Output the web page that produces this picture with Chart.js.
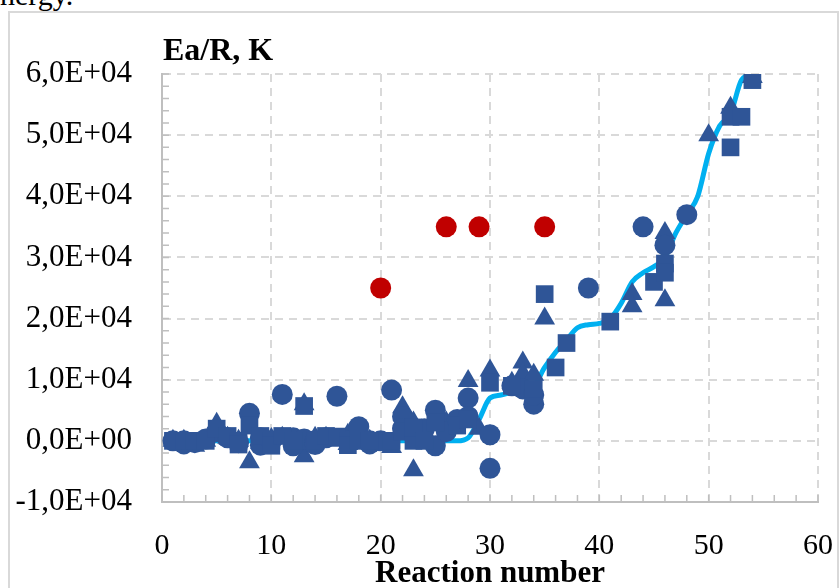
<!DOCTYPE html>
<html>
<head>
<meta charset="utf-8">
<script src="https://cdn.jsdelivr.net/npm/chart.js@4"></script>
<style>
  body { margin: 0; background: #fff; overflow: hidden; }
  #wrap { position: relative; width: 839px; height: 588px; }
  #frame { position: absolute; left: 8px; top: 11px; width: 827px; height: 600px; border: 2px solid #d9d9d9; }
  #cut { position: absolute; left: 0; top: -22px; font: 30px "Liberation Serif", serif; color: #000; }
  canvas { position: absolute; left: 0; top: 0; }
</style>
</head>
<body>
<div id="wrap">
  <div id="cut">nergy.</div>
  <div id="frame"></div>
  <canvas id="chart" width="839" height="588"></canvas>
</div>
<script>
// circles
const circleX = [1, 2, 2, 3, 4, 5, 6, 7, 8, 9, 9, 10, 11, 12, 12, 13, 14, 14, 15, 16, 17, 18, 19, 19, 20, 21, 22, 22, 23, 24, 25, 25, 26, 27, 28, 28, 30, 30, 32, 33, 34, 34, 39, 44, 46, 48];
const circleY = [0, 0, -500, -300, 300, 1500, 500, -300, 4500, 500, -700, 0, 7600, 500, -800, 300, 0, -600, 500, 7300, 0, 2300, 0, -500, 0, 8300, 4000, 2000, 1000, 2000, 5000, -800, 1500, 3500, 7000, 4000, 1000, -4500, 9000, 8500, 6000, 7500, 25000, 35000, 32000, 37000];

// triangles
const triX = [1, 2, 3, 4, 5, 6, 7, 8, 9, 10, 11, 12, 13, 13, 14, 15, 16, 17, 17, 18, 19, 21, 22, 22, 23, 23, 24, 26, 28, 29, 30, 32, 33, 33, 34, 35, 43, 43, 46, 46, 50, 52, 54];
const triY = [0, 0, -800, 0, 2800, 500, 0, -3500, -300, 300, 500, 0, 6000, -2500, 500, 500, 0, 1000, -500, 0, 0, -1000, 5500, 3000, -4800, 3000, 1500, 3000, 9800, 2000, 11500, 9500, 12800, 11000, 10800, 20000, 24000, 22000, 34000, 23000, 50000, 54500, 59500];

// squares
const sqX = [1, 2, 3, 4, 5, 6, 7, 7, 8, 9, 10, 10, 11, 12, 13, 14, 15, 16, 17, 17, 18, 19, 21, 22, 23, 23, 24, 25, 27, 28, 30, 32, 34, 35, 36, 37, 41, 45, 46, 46, 52, 52, 53, 54];
const sqY = [0, 0, 0, 0, 2000, 800, 0, -600, 2500, 800, 0, -800, 800, 0, 5700, 0, 800, 700, 0, -700, 0, 0, 0, 1500, 0, 2200, 0, 3000, 2500, 3500, 9500, 9000, 8500, 24000, 12000, 16000, 19500, 26000, 29000, 27500, 53000, 48000, 53000, 59000];

// red circles
const redX = [20, 26, 29, 35];
const redY = [25000, 35000, 35000, 35000];

// fitted curve
const fitX = [1, 5, 10, 15, 20, 25, 27, 28, 29, 30, 31, 32, 33, 34, 35, 36, 37, 38, 39, 40, 41, 42, 43, 44, 45, 46, 47, 48, 49, 50, 51, 52, 53, 54];
const fitY = [0, 0, 0, 0, 0, 0, 0, 500, 3500, 7000, 7500, 8000, 8500, 9000, 12000, 14500, 16500, 18500, 19000, 19200, 20000, 22500, 26000, 27500, 28500, 30000, 34000, 37000, 40000, 47000, 51500, 53500, 59000, 60000];

const xTickLabels = ['0', '10', '20', '30', '40', '50', '60'];
const yTickLabels = ['-1,0E+04', '0,0E+00', '1,0E+04', '2,0E+04', '3,0E+04', '4,0E+04', '5,0E+04', '6,0E+04'];

const blue = '#2F5597';
const toPts = (xs, ys) => xs.map((x, i) => ({ x: x, y: ys[i] }));

const minorTicks = {
  id: 'minorTicks',
  beforeDatasetsDraw(chart) {
    const { ctx, chartArea, scales: { x, y } } = chart;
    ctx.save();
    ctx.strokeStyle = '#bfbfbf';
    ctx.lineWidth = 1.5;
    ctx.beginPath();
    for (let v = y.min; v <= y.max; v += 2000) {
      const py = y.getPixelForValue(v);
      ctx.moveTo(chartArea.left, py);
      ctx.lineTo(chartArea.left + 7, py);
    }
    for (let v = x.min; v <= x.max; v += 2) {
      const px = x.getPixelForValue(v);
      ctx.moveTo(px, chartArea.bottom);
      ctx.lineTo(px, chartArea.bottom - 7);
    }
    ctx.stroke();
    ctx.restore();
  },
  afterDraw(chart) {
    const { ctx, chartArea } = chart;
    ctx.save();
    ctx.font = 'bold 32px "Liberation Serif"';
    ctx.fillStyle = '#000';
    ctx.textBaseline = 'middle';
    ctx.textAlign = 'left';
    ctx.fillText('Ea/R, K', chartArea.left + 1, 52);
    ctx.restore();
  }
};

new Chart(document.getElementById('chart'), {
  type: 'scatter',
  data: {
    datasets: [
      { data: toPts(redX, redY), pointStyle: 'circle', pointRadius: 10.5, backgroundColor: '#C00000', borderWidth: 0, order: 0 },
      { data: toPts(sqX, sqY), pointStyle: 'rect', pointRadius: 12.5, backgroundColor: blue, borderWidth: 0, order: 1 },
      { data: toPts(circleX, circleY), pointStyle: 'circle', pointRadius: 10.5, backgroundColor: blue, borderWidth: 0, order: 2 },
      { data: toPts(triX, triY), pointStyle: 'triangle', pointRadius: 12, backgroundColor: blue, borderWidth: 0, order: 3 },
      { data: toPts(fitX, fitY), showLine: true, pointRadius: 0, borderColor: '#00B0F0', borderWidth: 5, cubicInterpolationMode: 'monotone', order: 4 }
    ]
  },
  options: {
    responsive: false,
    animation: false,
    events: [],
    layout: { padding: { top: 74, right: 21, left: 0, bottom: 0 } },
    plugins: { legend: { display: false }, tooltip: { enabled: false } },
    scales: {
      x: {
        type: 'linear', min: 0, max: 60,
        afterFit: (s) => { s.height = 86; s.paddingLeft = 0; s.paddingRight = 0; },
        grid: { color: '#d9d9d9', lineWidth: 2, drawTicks: false },
        border: { display: true, color: '#bfbfbf', width: 2, dash: [8, 6] },
        ticks: {
          stepSize: 10, padding: 26, color: '#000',
          font: { family: 'Liberation Serif', size: 30 },
          callback: (v) => xTickLabels[v / 10]
        },
        title: {
          display: true, text: 'Reaction number', color: '#000',
          font: { family: 'Liberation Serif', size: 31, weight: 'bold' },
          padding: { top: 0, bottom: -5 }
        }
      },
      y: {
        type: 'linear', min: -10000, max: 60000,
        afterFit: (s) => { s.width = 162; s.paddingTop = 0; s.paddingBottom = 0; },
        grid: { color: '#d9d9d9', lineWidth: 2, drawTicks: false },
        border: { display: true, color: '#bfbfbf', width: 2, dash: [8, 6] },
        ticks: {
          stepSize: 10000, padding: 30, color: '#000',
          font: { family: 'Liberation Serif', size: 31 },
          callback: (v) => yTickLabels[(v + 10000) / 10000]
        }
      }
    }
  },
  plugins: [minorTicks]
});
</script>
</body>
</html>
